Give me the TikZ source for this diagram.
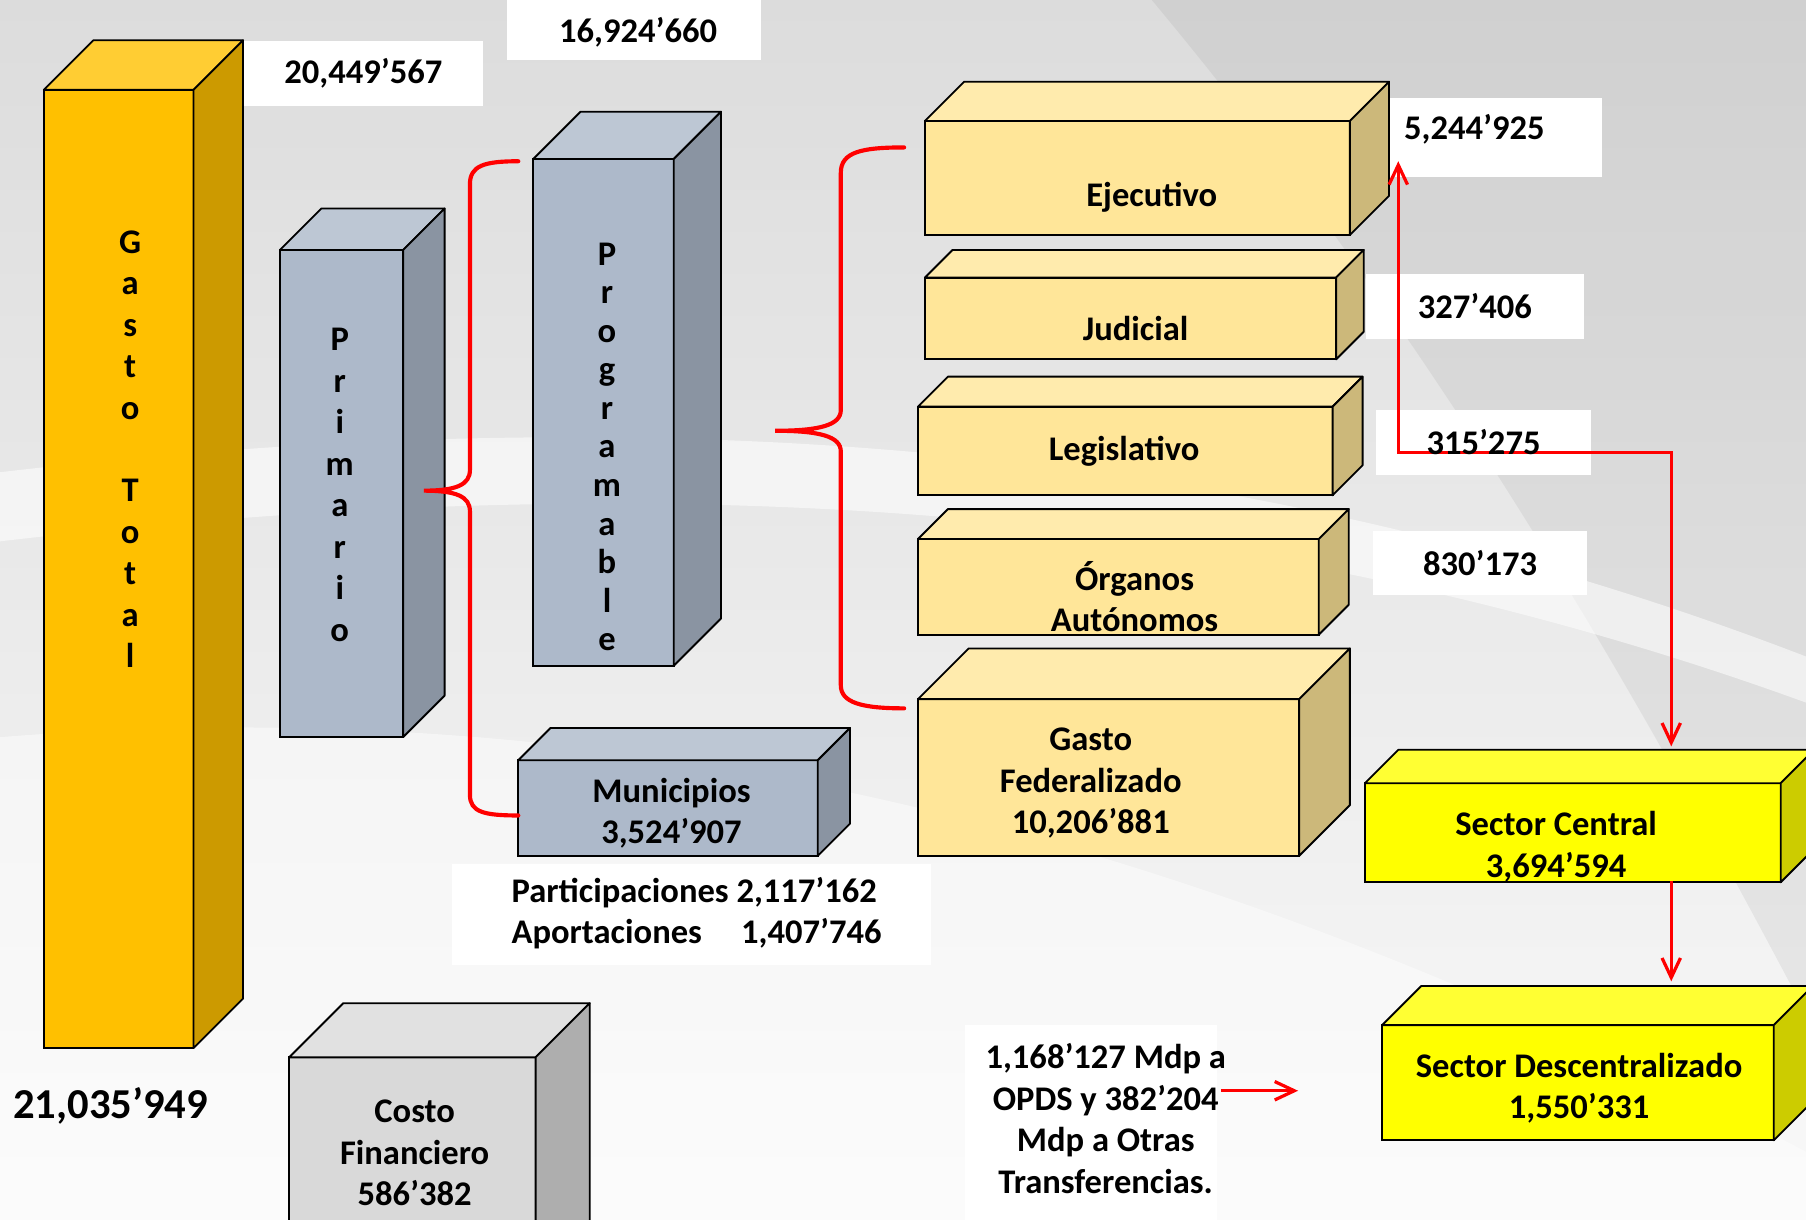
\documentclass[tikz,border=0pt]{standalone}
\usepackage{fontspec}
\setmainfont{Carlito}
\usetikzlibrary{arrows.meta,calc}
\definecolor{orF}{HTML}{FFC000}\definecolor{orT}{HTML}{FFCD33}\definecolor{orS}{HTML}{CC9A00}
\definecolor{blF}{HTML}{ADB9CA}\definecolor{blT}{HTML}{BDC7D4}\definecolor{blS}{HTML}{8A94A2}
\definecolor{lyF}{HTML}{FFE699}\definecolor{lyT}{HTML}{FFEBAD}\definecolor{lyS}{HTML}{CCB87A}
\definecolor{grF}{HTML}{D9D9D9}\definecolor{grT}{HTML}{E1E1E1}\definecolor{grS}{HTML}{AEAEAE}
\definecolor{yeF}{HTML}{FFFF00}\definecolor{yeT}{HTML}{FFFF33}\definecolor{yeS}{HTML}{CCCC00}
\definecolor{bgtop}{HTML}{DCDCDC}\definecolor{bgbot}{HTML}{F9F9F9}
\newcommand\cuboidfaces[4]{%
  \filldraw[draw=black,line width=1.6pt,line join=round,fill=#3] (#1.north west) -- ++(#2,-#2) -- ($(#1.north east)+(#2,-#2)$) -- (#1.north east) -- cycle;
  \filldraw[draw=black,line width=1.6pt,line join=round,fill=#4] (#1.north east) -- ++(#2,-#2) -- ($(#1.south east)+(#2,-#2)$) -- (#1.south east) -- cycle;}
\tikzset{
  face/.style={draw=black,line width=1.6pt,inner sep=0pt,outer sep=0pt,anchor=north west},
  wbox/.style={fill=white,draw=none,inner sep=0pt,outer sep=0pt,anchor=north west},
  lbl/.style={font=\bfseries\fontsize{30}{36}\selectfont,align=center,inner sep=0pt},
  redbrace/.style={draw=red,line width=3.6pt,line cap=round},
  barb/.tip={Straight Barb[length=17pt,width=16pt,line width=2.8pt]},
  redarrow/.style={draw=red,line width=2.8pt,-barb},
}
\begin{document}
\begin{tikzpicture}[x=1pt,y=-1pt]
\useasboundingbox (0,0) rectangle (1568,1059);
\clip (0,0) rectangle (1568,1059);
% background
\shade[top color=bgtop,bottom color=bgbot] (0,0) rectangle (1568,1059);
\fill[gray,opacity=0.12] (1000,0) -- (1568,0) -- (1568,880) .. controls (1420,600) and (1250,300) .. (1000,0) -- cycle;
\fill[white,opacity=0.55] (0,410) .. controls (600,340) and (1100,390) .. (1568,570) -- (1568,610) .. controls (1100,440) and (600,400) .. (0,470) -- cycle;
\fill[white,opacity=0.45] (0,640) .. controls (500,600) and (1000,700) .. (1568,1000) -- (1568,1059) -- (0,1059) -- cycle;
% white label boxes
\node[wbox,minimum width=207,minimum height=56] (b1) at (212,36) {};
\node[wbox,minimum width=221,minimum height=52] (b2) at (440,0) {};
\node[wbox,minimum width=185,minimum height=69] (b3) at (1206,85) {};
\node[wbox,minimum width=189,minimum height=56] (b4) at (1186,238) {};
\node[wbox,minimum width=186,minimum height=56] (b5) at (1195,356) {};
\node[wbox,minimum width=186,minimum height=56] (b6) at (1192,461) {};
\node[wbox,minimum width=416,minimum height=88] (b7) at (392,750) {};
\node[wbox,minimum width=219,minimum height=175] (b8) at (838,890) {};
% columns and boxes
\node[face,fill=orF,minimum width=130,minimum height=832] (gt) at (38,78) {};
\cuboidfaces{gt}{43}{orT}{orS}
\node[face,fill=blF,minimum width=107,minimum height=423] (pr) at (243,217) {};
\cuboidfaces{pr}{36}{blT}{blS}
\node[face,fill=blF,minimum width=122,minimum height=440] (pg) at (463,138) {};
\cuboidfaces{pg}{41}{blT}{blS}
\node[face,fill=blF,minimum width=260,minimum height=83] (mu) at (450,660) {};
\cuboidfaces{mu}{28}{blT}{blS}
\node[face,fill=grF,minimum width=214,minimum height=220] (cf) at (251,918) {};
\cuboidfaces{cf}{47}{grT}{grS}
\node[face,fill=lyF,minimum width=369,minimum height=99] (ej) at (803,105) {};
\cuboidfaces{ej}{34}{lyT}{lyS}
\node[face,fill=lyF,minimum width=357,minimum height=71] (ju) at (803,241) {};
\cuboidfaces{ju}{24}{lyT}{lyS}
\node[face,fill=lyF,minimum width=360,minimum height=77] (le) at (797,353) {};
\cuboidfaces{le}{26}{lyT}{lyS}
\node[face,fill=lyF,minimum width=348,minimum height=83] (og) at (797,468) {};
\cuboidfaces{og}{26}{lyT}{lyS}
\node[face,fill=lyF,minimum width=331,minimum height=136] (gf) at (797,607) {};
\cuboidfaces{gf}{44}{lyT}{lyS}
\node[face,fill=yeF,minimum width=361,minimum height=86] (sc) at (1185,680) {};
\cuboidfaces{sc}{29}{yeT}{yeS}
\node[face,fill=yeF,minimum width=340,minimum height=100] (sd) at (1200,890) {};
\cuboidfaces{sd}{34}{yeT}{yeS}
% braces
\coordinate (br1top) at (450,140);
\coordinate (br1tip) at (368,426);
\coordinate (br1bot) at (450,708);
\draw[redbrace] (br1top) .. controls (420,140) and (408,144) .. (408,160) -- (408,408)
  .. controls (408,421) and (396,426) .. (br1tip)
  .. controls (396,426) and (408,431) .. (408,444) -- (408,690)
  .. controls (408,705) and (420,708) .. (br1bot);
\coordinate (br2top) at (785,128);
\coordinate (br2bot) at (785,615);
\coordinate (br2tip) at (673,374);
\draw[redbrace] (br2top) .. controls (748,128) and (730,132) .. (730,150) -- (730,356)
  .. controls (730,369) and (712,374) .. (br2tip)
  .. controls (712,374) and (730,379) .. (730,392) -- (730,595)
  .. controls (730,610) and (748,615) .. (br2bot);
% arrows
\coordinate (ejA) at (1214,140);
\coordinate (bendA) at (1214,393);
\coordinate (bendB) at (1451,393);
\coordinate (scA) at (1451,648);
\draw[redarrow,barb-barb,line join=miter] (ejA) -- (bendA) -- (bendB) -- (scA);
\coordinate (scB) at (1451,765);
\coordinate (sdA) at (1451,852);
\draw[redarrow] (scB) -- (sdA);
\coordinate (tfA) at (1060,947);
\coordinate (sdB) at (1127,947);
\draw[redarrow] (tfA) -- (sdB);
% texts
\node[lbl] (t1) at (b1.center) {20,449’567};
\node[lbl] (t2) at (554,28) {16,924’660};
\node[lbl] (t3) at (1280,112) {5,244’925};
\node[lbl] (t4) at (b4.center) {327’406};
\node[lbl] (t5) at (b5.center) {315’275};
\node[lbl] (t6) at (b6.center) {830’173};
\node[lbl,anchor=west] (t7) at (444,794) {\begin{tabular}{@{}l@{\ }l@{}}Participaciones & 2,117’162\\ Aportaciones & \hspace{4pt}1,407’746\end{tabular}};
\node[lbl] (t8) at (960,971) {1,168’127 Mdp a\\OPDS y 382’204\\Mdp a Otras\\Transferencias.};
\node[lbl] (gtt) at (113,390) {G\\a\\s\\t\\o\\[36pt]T\\o\\t\\a\\l};
\node[lbl] (prt) at (295,421) {P\\r\\i\\m\\a\\r\\i\\o};
\node[lbl,font=\bfseries\fontsize{30}{33.5}\selectfont] (pgt) at (527,388) {P\\r\\o\\g\\r\\a\\m\\a\\b\\l\\e};
\node[lbl,font=\bfseries\fontsize{37}{42}\selectfont] (tot) at (96,960) {21,035’949};
\node[lbl] (mut) at (583,706) {Municipios\\3,524’907};
\node[lbl] (cft) at (360,1001) {Costo\\Financiero\\586’382};
\node[lbl] (ejt) at (1000,171) {Ejecutivo};
\node[lbl] (jut) at (986,285) {Judicial};
\node[lbl] (let) at (976,392) {Legislativo};
\node[lbl] (ogt) at (985,518) {Órganos\\Autónomos};
\node[lbl] (gft) at (947,680) {Gasto\\Federalizado\\10,206’881};
\node[lbl] (sct) at (1351,735) {Sector Central\\3,694’594};
\node[lbl] (sdt) at (1371,945) {Sector Descentralizado\\1,550’331};
\end{tikzpicture}
\end{document}
